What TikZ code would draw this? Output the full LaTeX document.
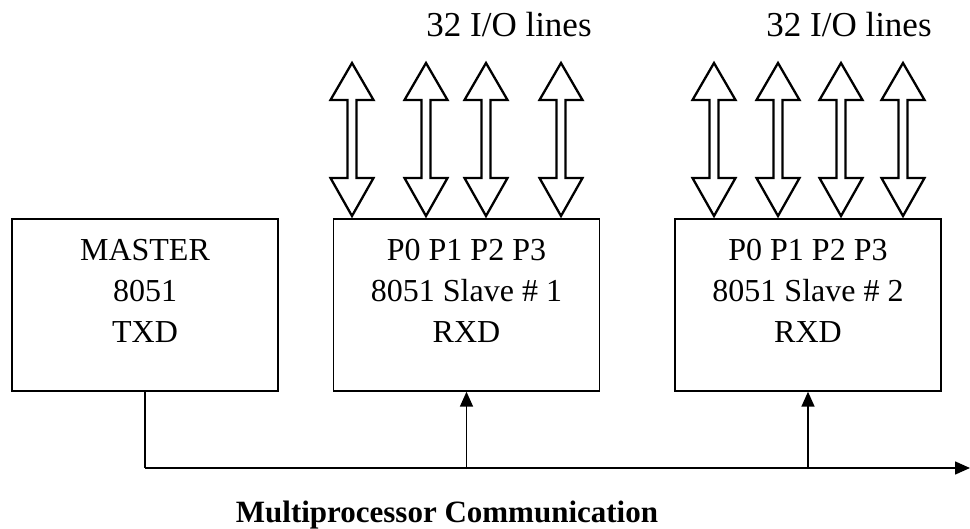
\documentclass[tikz,border=0pt]{standalone}
\usepackage{fontspec}
\setmainfont{Liberation Serif}
\usetikzlibrary{arrows.meta}
\begin{document}
\begin{tikzpicture}[x=1pt,y=-1pt,
  chip/.style={draw, line width=1.4pt, minimum width=266pt, minimum height=172pt, inner sep=0pt},
  lbl/.style={anchor=base, inner sep=0pt, font=\fontsize{32}{38}\selectfont},
  iolbl/.style={anchor=base, inner sep=0pt, font=\fontsize{35}{40}\selectfont},
  title/.style={anchor=base, inner sep=0pt, font=\fontsize{31}{36}\selectfont\bfseries},
  bus/.style={line width=1.6pt},
  feed/.style={line width=1.6pt, -{Triangle[length=15pt,width=13pt]}},
  port/.style={draw, line width=2.3pt, line join=miter}]
\useasboundingbox (0,0) rectangle (970,529);

% processor boxes
\node[chip] (master) at (145,305) {};
\node[chip] (s1) at (466.5,305) {};
\node[chip] (s2) at (808,305) {};

% box labels, one node per line
\foreach \t [count=\i] in {MASTER,8051,TXD}
  \node[lbl] (m\i) at (145,220+41*\i) {\t};
\foreach \t [count=\i] in {P0 P1 P2 P3,{8051 Slave \# 1},RXD}
  \node[lbl] (a\i) at (466.5,220+41*\i) {\t};
\foreach \t [count=\i] in {P0 P1 P2 P3,{8051 Slave \# 2},RXD}
  \node[lbl] (b\i) at (808,220+41*\i) {\t};

% port headers: hollow double-headed arrows
\foreach \c in {352,426,486,561,714,778,841,903}
  \draw[port] (\c,63) -- (\c+21.5,100) -- (\c+4.5,100) -- (\c+4.5,178)
    -- (\c+21.5,178) -- (\c,216) -- (\c-21.5,178) -- (\c-4.5,178)
    -- (\c-4.5,100) -- (\c-21.5,100) -- cycle;

\node[iolbl] (io1) at (509,37) {32 I/O lines};
\node[iolbl] (io2) at (849,37) {32 I/O lines};

% serial bus
\coordinate (busR) at (970,468);
\draw[bus] (master.south) -- (master.south |- busR);
\draw[feed] (master.south |- busR) -- (busR);
\draw[feed] (s1.south |- busR) -- (s1.south);
\draw[feed] (s2.south |- busR) -- (s2.south);

\node[title] (cap) at (447,522) {Multiprocessor Communication};
\end{tikzpicture}
\end{document}
